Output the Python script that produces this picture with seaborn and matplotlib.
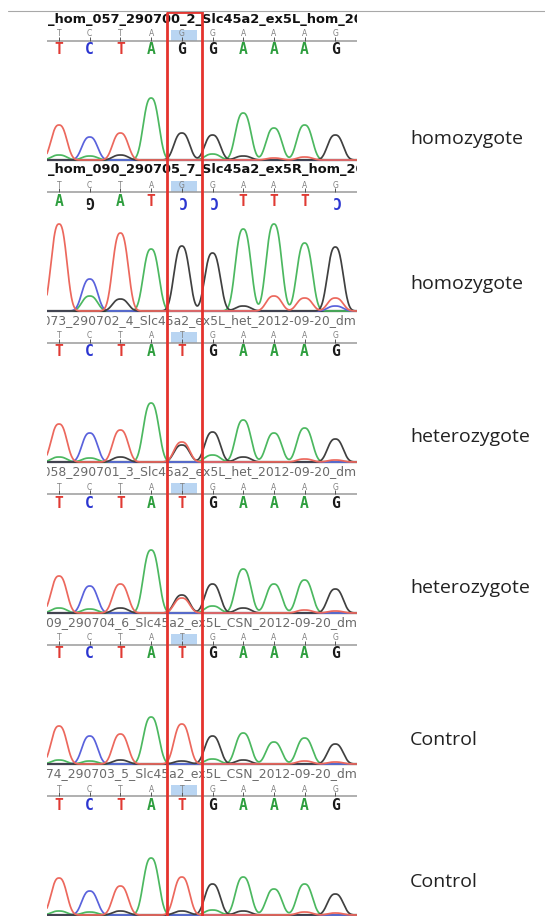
import numpy as np
import pandas as pd
import matplotlib
matplotlib.use("Agg")
import matplotlib.pyplot as plt
from matplotlib import font_manager
from matplotlib.patches import Rectangle
from matplotlib.lines import Line2D
import seaborn as sns

# --- read data -------------------------------------------------------
sample_names = [
    "_hom_057_290700_2_Slc45a2_ex5L_hom_2012-09-20_dm",
    "_hom_090_290705_7_Slc45a2_ex5R_hom_2012-09-20_dm",
    "het_073_290702_4_Slc45a2_ex5L_het_2012-09-20_dm",
    "het_058_290701_3_Slc45a2_ex5L_het_2012-09-20_dm",
    "CSN_009_290704_6_Slc45a2_ex5L_CSN_2012-09-20_dm",
    "CSN_074_290703_5_Slc45a2_ex5L_CSN_2012-09-20_dm",
]
genotypes = ["homozygote", "homozygote", "heterozygote", "heterozygote",
             "Control", "Control"]
reference_seqs = ["TCTAGGAAAG", "TCTAGGAAAG", "TCTATGAAAG",
                  "TCTATGAAAG", "TCTATGAAAG", "TCTATGAAAG"]
called_seqs = ["TCTAGGAAAG", "AGATCCTTTC", "TCTATGAAAG",
               "TCTATGAAAG", "TCTATGAAAG", "TCTATGAAAG"]
reverse_read = [False, True, False, False, False, False]
snp_index = 4

# peak heights of each dye channel at the 10 base positions
hom1_A = [5, 4, 0, 62, 0, 6, 47, 32, 35, 0]
hom1_C = [0, 23, 0, 0, 0, 0, 0, 0, 0, 0]
hom1_G = [0, 0, 5, 0, 27, 25, 4, 0, 0, 25]
hom1_T = [35, 0, 27, 0, 0, 0, 0, 2, 3, 0]

hom2_A = [0, 15, 0, 62, 0, 0, 82, 87, 68, 0]
hom2_C = [0, 32, 0, 0, 0, 0, 0, 0, 0, 5]
hom2_G = [0, 0, 12, 0, 65, 58, 5, 0, 0, 64]
hom2_T = [87, 0, 78, 0, 0, 0, 0, 15, 13, 13]

het1_A = [5, 4, 0, 59, 0, 7, 42, 29, 34, 0]
het1_C = [0, 29, 0, 0, 0, 0, 0, 0, 0, 0]
het1_G = [0, 0, 5, 0, 17, 30, 5, 0, 0, 23]
het1_T = [38, 0, 32, 0, 20, 0, 0, 0, 3, 2]

het2_A = [5, 4, 0, 63, 0, 7, 44, 29, 33, 0]
het2_C = [0, 27, 0, 0, 0, 0, 0, 0, 0, 0]
het2_G = [0, 0, 5, 0, 18, 29, 5, 0, 0, 24]
het2_T = [37, 0, 29, 0, 15, 0, 0, 0, 3, 2]

ctrl1_A = [4, 3, 0, 47, 0, 5, 31, 22, 26, 0]
ctrl1_C = [0, 28, 0, 0, 0, 0, 0, 0, 0, 0]
ctrl1_G = [0, 0, 4, 0, 3, 28, 4, 0, 0, 20]
ctrl1_T = [38, 0, 30, 0, 40, 0, 0, 0, 3, 2]

ctrl2_A = [4, 3, 0, 57, 0, 5, 38, 26, 31, 0]
ctrl2_C = [0, 24, 0, 0, 0, 0, 0, 0, 0, 0]
ctrl2_G = [0, 0, 4, 0, 4, 31, 4, 0, 0, 21]
ctrl2_T = [37, 0, 29, 0, 38, 0, 0, 0, 3, 2]

traces = [
    (hom1_A, hom1_C, hom1_G, hom1_T),
    (hom2_A, hom2_C, hom2_G, hom2_T),
    (het1_A, het1_C, het1_G, het1_T),
    (het2_A, het2_C, het2_G, het2_T),
    (ctrl1_A, ctrl1_C, ctrl1_G, ctrl1_T),
    (ctrl2_A, ctrl2_C, ctrl2_G, ctrl2_T),
]

# --- style / layout --------------------------------------------------
trace_colors = {"A": "#4cb860", "C": "#5a62dc", "G": "#404040", "T": "#ec685d"}
letter_colors = {"A": "#2e9e3e", "C": "#2b35d0", "G": "#1a1a1a", "T": "#e03a33"}

FIG_W, FIG_H = 545, 916
AX_LEFT, AX_RIGHT = 47, 357
BASE0_PX, BASE_STEP_PX = 59, 30.7
PANEL0_BASELINE, PANEL_STEP, PANEL_H = 160, 151, 150
HEADER_Y, SMALL_Y, RULE_Y, CALL_Y = 141, 126, 119, 110
PEAK_HALFWIDTH, PEAK_POWER = 0.32, 2.6   # rounded-arch peak shape
label_y_px = [139, 284, 437, 588, 740, 882]

sns.set_theme(style="white")
names = {f.name for f in font_manager.fontManager.ttflist}
label_font = "Open Sans" if "Open Sans" in names else "DejaVu Sans"
plt.rcParams["font.family"] = ["DejaVu Sans"]

xlim = ((AX_LEFT - BASE0_PX) / BASE_STEP_PX, (AX_RIGHT - BASE0_PX) / BASE_STEP_PX)
xgrid = np.linspace(xlim[0], xlim[1], 800)
positions = np.arange(10)

fig = plt.figure(figsize=(FIG_W / 100, FIG_H / 100), dpi=100)

for i in range(6):
    base_px = PANEL0_BASELINE + i * PANEL_STEP
    ax = fig.add_axes([AX_LEFT / FIG_W, (FIG_H - base_px - 1.5) / FIG_H,
                       (AX_RIGHT - AX_LEFT) / FIG_W, PANEL_H / FIG_H])

    # chromatogram: one continuous curve per dye channel
    frames = []
    for base, heights in zip("ACGT", traces[i]):
        y = np.zeros_like(xgrid)
        for k, h in zip(positions, heights):
            y += h * np.exp(-np.abs((xgrid - k) / PEAK_HALFWIDTH) ** PEAK_POWER)
        frames.append(pd.DataFrame({"pos": xgrid, "signal": y, "base": base}))
    df = pd.concat(frames, ignore_index=True)

    ax.axhline(0, color="#222222", lw=1.6, zorder=1)
    sns.lineplot(data=df, x="pos", y="signal", hue="base", palette=trace_colors,
                 estimator=None, errorbar=None, sort=False, legend=False,
                 lw=1.25, ax=ax, zorder=2)

    # sample header, clipped at the panel edges like the viewer does
    if i < 2:
        ax.text(xlim[0] + 0.02, HEADER_Y, sample_names[i], ha="left", va="center",
                fontsize=9.4, fontweight="bold", color="#111111", clip_on=True)
    else:
        ax.text(xlim[1], HEADER_Y, sample_names[i], ha="right", va="center",
                fontsize=8.9, color="#6a6a6a", clip_on=True)

    # reference row, rule and called bases
    ax.add_patch(Rectangle((snp_index - 0.36, RULE_Y + 0.5), 0.86, 10.5,
                           facecolor="#b9d5f2", edgecolor="none", zorder=1))
    ax.axhline(RULE_Y, color="#9a9a9a", lw=1.1, zorder=2)
    ax.vlines(positions, RULE_Y, RULE_Y + 4, color="#555555", lw=0.7, zorder=3)
    for k, b in enumerate(reference_seqs[i]):
        ax.text(k, SMALL_Y, b, ha="center", va="center", fontsize=5.5,
                color="#808080", zorder=3)
    for k, b in enumerate(called_seqs[i]):
        flip = 180 if (reverse_read[i] and b in "CG") else 0
        ax.text(k, CALL_Y, b, ha="center", va="center", fontsize=10.5,
                fontweight="bold", family="DejaVu Sans Mono",
                color=letter_colors[b], rotation=flip, zorder=3)

    ax.set_xlim(xlim)
    ax.set_ylim(-1.5, PANEL_H - 1.5)
    ax.axis("off")

    fig.text(410 / FIG_W, 1 - label_y_px[i] / FIG_H, genotypes[i], ha="left",
             va="center", fontsize=14, family=label_font, color="#222222")

# thin rule at the top of the first panel
fig.add_artist(Line2D([8 / FIG_W, 1], [1 - 11 / FIG_H] * 2,
                      transform=fig.transFigure, color="#a8a8a8", lw=0.8))

# red box marking the SNP column across all reads
over = fig.add_axes([AX_LEFT / FIG_W, 0, (AX_RIGHT - AX_LEFT) / FIG_W, 1])
over.set_xlim(xlim)
over.set_ylim(FIG_H, 0)
over.axis("off")
over.patch.set_visible(False)
over.add_patch(Rectangle((snp_index - 0.48, 12), 1.14, FIG_H, fill=False,
                         edgecolor="#e5322d", lw=2.0))

fig.savefig("out.png", dpi=100)
